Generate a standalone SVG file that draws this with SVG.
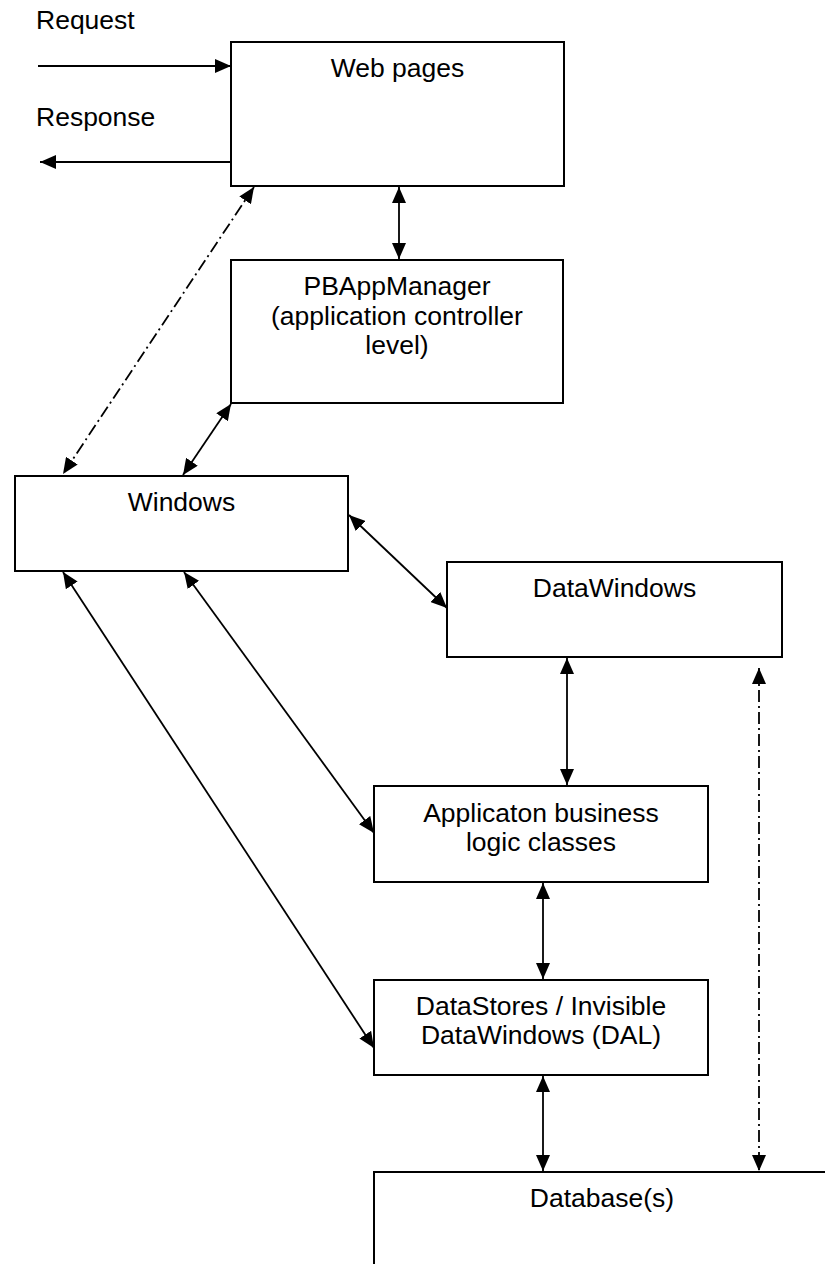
<svg xmlns="http://www.w3.org/2000/svg" width="825" height="1264" viewBox="0 0 825 1264">
<style>
.box{fill:#fff;stroke:#000;stroke-width:2}
.t{font-family:"Liberation Sans",Arial,sans-serif;font-size:26.5px;fill:#000}
.c{text-anchor:middle}
.ln{fill:none;stroke:#000;stroke-width:1.8}
.dd{stroke-dasharray:12 4 2 4}
</style>
<defs>
<marker id="ah" markerUnits="userSpaceOnUse" markerWidth="16" markerHeight="14" refX="16" refY="7" orient="auto-start-reverse">
<path d="M0,0 L16,7 L0,14 z" fill="#000"/>
</marker>
</defs>
<rect width="825" height="1264" fill="#fff"/>
<g id="labels">
<text class="t" x="36" y="29">Request</text>
<text class="t" x="36" y="126">Response</text>
</g>
<g id="web-pages">
<rect class="box" x="231" y="42" width="333" height="144"/>
<text class="t c" x="397.5" y="77">Web pages</text>
</g>
<g id="pbappmanager">
<rect class="box" x="231" y="260" width="332" height="143"/>
<text class="t c" x="397" y="295">PBAppManager<tspan x="397" dy="29.5">(application controller</tspan><tspan x="397" dy="29.5">level)</tspan></text>
</g>
<g id="windows">
<rect class="box" x="15" y="476" width="333" height="95"/>
<text class="t c" x="181.5" y="511">Windows</text>
</g>
<g id="datawindows">
<rect class="box" x="447" y="562" width="335" height="95"/>
<text class="t c" x="614.5" y="597">DataWindows</text>
</g>
<g id="business-logic">
<rect class="box" x="374" y="786" width="334" height="96"/>
<text class="t c" x="541" y="822">Applicaton business<tspan x="541" dy="29">logic classes</tspan></text>
</g>
<g id="datastores">
<rect class="box" x="374" y="980" width="334" height="95"/>
<text class="t c" x="541" y="1015">DataStores / Invisible<tspan x="541" dy="28.5">DataWindows (DAL)</tspan></text>
</g>
<g id="database">
<rect class="box" x="374" y="1172" width="500" height="150"/>
<text class="t c" x="602" y="1207">Database(s)</text>
</g>
<g id="connectors">
<line class="ln" x1="38" y1="66" x2="231" y2="66" marker-end="url(#ah)"/>
<line class="ln" x1="231" y1="162" x2="40" y2="162" marker-end="url(#ah)"/>
<line class="ln" x1="399" y1="187" x2="399" y2="259" marker-start="url(#ah)" marker-end="url(#ah)"/>
<line class="ln dd" x1="254" y1="187" x2="63" y2="474" marker-start="url(#ah)" marker-end="url(#ah)"/>
<line class="ln" x1="231" y1="404" x2="183" y2="475" marker-start="url(#ah)" marker-end="url(#ah)"/>
<line class="ln" x1="349" y1="515" x2="447" y2="608" marker-start="url(#ah)" marker-end="url(#ah)"/>
<line class="ln" x1="567" y1="658" x2="567" y2="785" marker-start="url(#ah)" marker-end="url(#ah)"/>
<line class="ln" x1="184" y1="572" x2="374" y2="833" marker-start="url(#ah)" marker-end="url(#ah)"/>
<line class="ln" x1="63" y1="572" x2="374" y2="1048" marker-start="url(#ah)" marker-end="url(#ah)"/>
<line class="ln" x1="543" y1="883" x2="543" y2="979" marker-start="url(#ah)" marker-end="url(#ah)"/>
<line class="ln" x1="543" y1="1076" x2="543" y2="1171" marker-start="url(#ah)" marker-end="url(#ah)"/>
<line class="ln dd" x1="759" y1="668" x2="759" y2="1171" marker-start="url(#ah)" marker-end="url(#ah)"/>
</g>
</svg>
